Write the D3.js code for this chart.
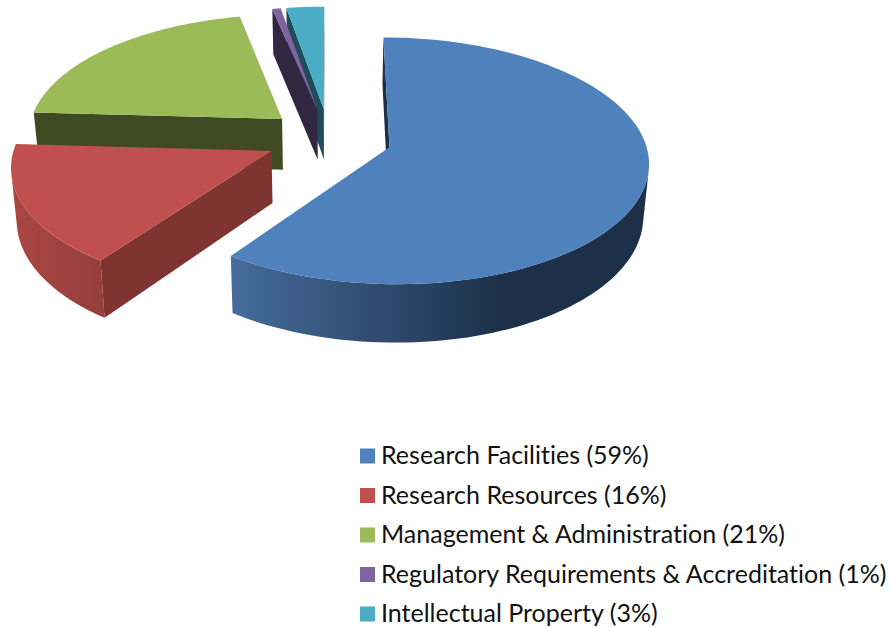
<!DOCTYPE html>
<html>
<head>
<meta charset="utf-8">
<script src="https://cdnjs.cloudflare.com/ajax/libs/d3/7.8.5/d3.min.js"></script>
<style>
	html, body { margin: 0; padding: 0; background: #fff; }
	svg { display: block; }
	text { font-family: Lato, "Open Sans", sans-serif; fill: #111; font-variant-ligatures: none; }
</style>
</head>
<body>
<svg id="chart" width="891" height="627"></svg>
<script>
const categories = ["Research Facilities", "Research Resources", "Management & Administration", "Regulatory Requirements & Accreditation", "Intellectual Property"];
const percentLabels = ["59%", "16%", "21%", "1%", "3%"];
const sliceValues = [59.9, 16, 20.8, 0.6, 2.7];
const topColors = ["#4f81bd", "#c0504d", "#9bbb59", "#8064a2", "#4bacc6"];
const wallColors = ["#1b3048", "#7f3432", "#404a22", "#312740", "#1f4c5a"];
const outerFrom = ["#456c9b", "#aa4643", "#5d7035", "#4c3c61", "#2d6676"];
const outerTo = ["#1c3049", "#943f3c", "#404a22", "#312740", "#1f4c5a"];
const outerStop = ["65%", "100%", "100%", "100%", "100%"];
const paintOrder = [4, 3, 2, 1, 0];

// view of the tilted pie
const vx = 329, vy = 138;
const radius = 255, tilt = 0.47, perspective = 0.11;
const depth = 51.5, pull = 0.018, explode = 63;

const svg = d3.select("#chart");
const defs = svg.append("defs");
const slices = d3.pie().sort(null)(sliceValues);

function project(wx, wy, low) {
	const p = 1 / (1 - perspective * wy / radius);
	const k = low ? 1 - pull : 1;
	return [vx + wx * p * k, vy + wy * tilt * p + (low ? depth * p : 0)];
}

function rim(slice, a, dist) {
	const mid = (slice.startAngle + slice.endAngle) / 2;
	return [
		Math.sin(mid) * explode + Math.sin(a) * dist,
		-Math.cos(mid) * explode - Math.cos(a) * dist
	];
}

const line = d3.line();

paintOrder.forEach(i => {
	const s = slices[i];
	const g = svg.append("g").attr("class", "slice s" + i);
	const angles = d3.range(0, 121).map(d3.scaleLinear().domain([0, 120]).range([s.startAngle, s.endAngle]));
	const apex = rim(s, 0, 0);
	const topEdge = angles.map(a => project(...rim(s, a, radius), false));
	const lowEdge = angles.map(a => project(...rim(s, a, radius), true));

	// outer wall, only the strips that face the camera
	const keep = d3.range(0, 120).filter(j => d3.polygonArea([topEdge[j], topEdge[j + 1], lowEdge[j + 1], lowEdge[j]]) > 0);
	if (keep.length) {
		const idx = keep.concat(keep[keep.length - 1] + 1);
		const pts = idx.map(j => topEdge[j]).concat(idx.map(j => lowEdge[j]).reverse());
		const [x0, x1] = d3.extent(pts, d => d[0]);
		const grad = defs.append("linearGradient")
			.attr("id", "outer" + i)
			.attr("gradientUnits", "userSpaceOnUse")
			.attr("x1", x0).attr("x2", x1).attr("y1", 0).attr("y2", 0);
		grad.append("stop").attr("offset", "0%").attr("stop-color", outerFrom[i]);
		grad.append("stop").attr("offset", outerStop[i]).attr("stop-color", outerTo[i]);
		g.append("path").attr("d", line(pts) + "Z").attr("fill", "url(#outer" + i + ")");
	}

	// straight cut walls
	const apexTop = project(...apex, false), apexLow = project(...apex, true);
	const startWall = [apexTop, topEdge[0], lowEdge[0], apexLow];
	const endWall = [apexTop, apexLow, lowEdge[120], topEdge[120]];
	[startWall, endWall].forEach(w => {
		if (d3.polygonArea(w) > 0) g.append("path").attr("d", line(w) + "Z").attr("fill", wallColors[i]);
	});

	// top face
	g.append("path")
		.attr("d", line([apexTop].concat(topEdge)) + "Z")
		.attr("fill", topColors[i]);
});

// legend
const rowY = d3.scalePoint().domain(categories).range([456, 614]);
const legend = svg.append("g").attr("class", "legend");
categories.forEach((c, i) => {
	legend.append("rect")
		.attr("x", 360).attr("y", rowY(c) - 7.5)
		.attr("width", 15).attr("height", 15)
		.attr("fill", topColors[i]);
	legend.append("text")
		.attr("x", 381).attr("y", rowY(c) + 8)
		.attr("font-size", 25)
		.text(c + " (" + percentLabels[i] + ")");
});
</script>
</body>
</html>
